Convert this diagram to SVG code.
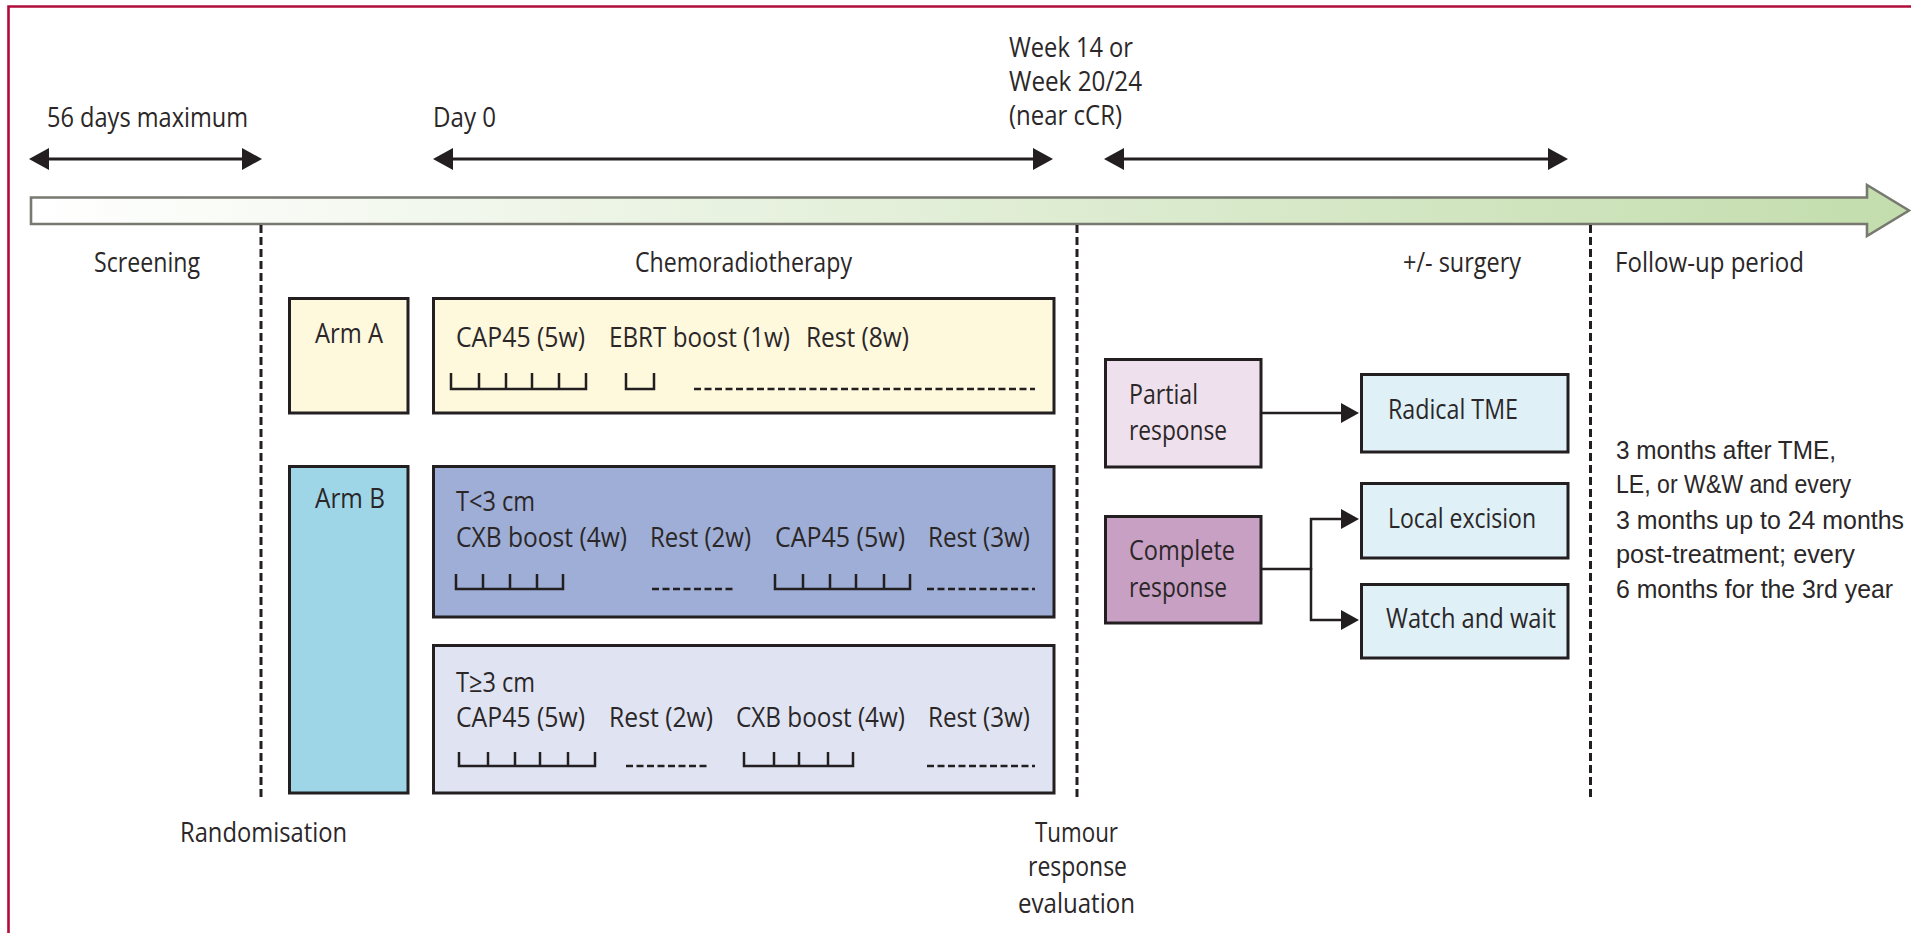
<svg xmlns="http://www.w3.org/2000/svg" width="1911" height="933" viewBox="0 0 1911 933">
<style>
.t{font-family:"Open Sans","Liberation Sans",sans-serif;font-size:27px;fill:#2b2728;}
.f{font-family:"Liberation Sans","Open Sans",sans-serif;font-size:25px;fill:#2b2728;}
.box{stroke:#231f20;stroke-width:3;}
.tick{fill:none;stroke:#231f20;stroke-width:2.5;}
.rest{fill:none;stroke:#231f20;stroke-width:2.5;stroke-dasharray:7 3.5;}
.guide{fill:none;stroke:#231f20;stroke-width:3;stroke-dasharray:8 4;}
.tl{fill:none;stroke:#231f20;stroke-width:3;}
.conn{fill:none;stroke:#231f20;stroke-width:2.5;}
</style>
<defs>
<linearGradient id="barg" x1="31" y1="0" x2="1909" y2="0" gradientUnits="userSpaceOnUse">
<stop offset="0" stop-color="#ffffff"/>
<stop offset="1" stop-color="#c3ddad"/>
</linearGradient>
<marker id="ah" markerUnits="userSpaceOnUse" viewBox="0 0 20 22" refX="14" refY="11" markerWidth="20" markerHeight="22" orient="auto-start-reverse">
<path d="M0,0 L20,11 L0,22 z" fill="#231f20"/>
</marker>
<marker id="ah2" markerUnits="userSpaceOnUse" viewBox="0 0 18 20" refX="12" refY="10" markerWidth="18" markerHeight="20" orient="auto">
<path d="M0,0 L18,10 L0,20 z" fill="#231f20"/>
</marker>
</defs>
<rect width="1911" height="933" fill="#ffffff"/>
<path d="M8.5,933 V6.5 H1911" fill="none" stroke="#b10c3b" stroke-width="2.6"/>

<g id="timeline-bar">
<path d="M31,197.5 H1867 V185 L1909,210.5 L1867,236 V224 H31 Z" fill="url(#barg)" stroke="#777970" stroke-width="2.6"/>
</g>

<g id="top-labels">
<text class="t" x="47" y="127" textLength="201" lengthAdjust="spacingAndGlyphs">56 days maximum</text>
<text class="t" x="433" y="127" textLength="63" lengthAdjust="spacingAndGlyphs">Day 0</text>
<text class="t" x="1009" y="57" textLength="124" lengthAdjust="spacingAndGlyphs">Week 14 or</text>
<text class="t" x="1009" y="91" textLength="133" lengthAdjust="spacingAndGlyphs">Week 20/24</text>
<text class="t" x="1009" y="125" textLength="113" lengthAdjust="spacingAndGlyphs">(near cCR)</text>
</g>

<g id="phase-labels">
<text class="t" x="94" y="272" textLength="106" lengthAdjust="spacingAndGlyphs">Screening</text>
<text class="t" x="635" y="272" textLength="217" lengthAdjust="spacingAndGlyphs">Chemoradiotherapy</text>
<text class="t" x="1403" y="272" textLength="118" lengthAdjust="spacingAndGlyphs">+/- surgery</text>
<text class="t" x="1615" y="272" textLength="189" lengthAdjust="spacingAndGlyphs">Follow-up period</text>
<text class="t" x="180" y="842" textLength="167" lengthAdjust="spacingAndGlyphs">Randomisation</text>
<text class="t" x="1035" y="842" textLength="83" lengthAdjust="spacingAndGlyphs">Tumour</text>
<text class="t" x="1028" y="876" textLength="99" lengthAdjust="spacingAndGlyphs">response</text>
<text class="t" x="1018" y="913" textLength="117" lengthAdjust="spacingAndGlyphs">evaluation</text>
</g>

<g id="guides">
<line class="guide" x1="261" y1="225" x2="261" y2="797"/>
<line class="guide" x1="1077" y1="225" x2="1077" y2="797"/>
<line class="guide" x1="1590.5" y1="225" x2="1590.5" y2="797"/>
</g>

<g id="arm-a">
<rect class="box" x="289.5" y="298.5" width="118.5" height="114.5" fill="#fef8dd"/>
<text class="t" x="315" y="343" textLength="68" lengthAdjust="spacingAndGlyphs">Arm A</text>
</g>
<g id="arm-a-schedule">
<rect class="box" x="433.5" y="298.5" width="620.5" height="114.5" fill="#fef8dd"/>
<text class="t" x="456" y="347" textLength="129" lengthAdjust="spacingAndGlyphs">CAP45 (5w)</text>
<text class="t" x="609" y="347" textLength="181" lengthAdjust="spacingAndGlyphs">EBRT boost (1w)</text>
<text class="t" x="806" y="347" textLength="103" lengthAdjust="spacingAndGlyphs">Rest (8w)</text>
<path class="tick" d="M451,373 V389 H586 V373 M479,389 V373 M506,389 V373 M532,389 V373 M559,389 V373"/>
<path class="tick" d="M626,373 V389 H654 V373"/>
<path class="rest" d="M694,389 H1035"/>
</g>

<g id="arm-b">
<rect class="box" x="289.5" y="466.5" width="118.5" height="326.5" fill="#9ed6e8"/>
<text class="t" x="315" y="508" textLength="70" lengthAdjust="spacingAndGlyphs">Arm B</text>
</g>
<g id="arm-b-small">
<rect class="box" x="433.5" y="466.5" width="620.5" height="150.5" fill="#9eaed6"/>
<text class="t" x="456" y="511" textLength="79" lengthAdjust="spacingAndGlyphs">T&lt;3 cm</text>
<text class="t" x="456" y="547" textLength="171" lengthAdjust="spacingAndGlyphs">CXB boost (4w)</text>
<text class="t" x="650" y="547" textLength="101" lengthAdjust="spacingAndGlyphs">Rest (2w)</text>
<text class="t" x="775" y="547" textLength="130" lengthAdjust="spacingAndGlyphs">CAP45 (5w)</text>
<text class="t" x="928" y="547" textLength="102" lengthAdjust="spacingAndGlyphs">Rest (3w)</text>
<path class="tick" d="M456,574 V589 H563 V574 M483,589 V574 M510,589 V574 M537,589 V574"/>
<path class="rest" d="M652,589 H733"/>
<path class="tick" d="M775,574 V589 H910 V574 M803,589 V574 M830,589 V574 M856,589 V574 M884,589 V574"/>
<path class="rest" d="M927,589 H1035"/>
</g>
<g id="arm-b-large">
<rect class="box" x="433.5" y="645.5" width="620.5" height="147.5" fill="#e0e4f2"/>
<text class="t" x="456" y="692" textLength="79" lengthAdjust="spacingAndGlyphs">T≥3 cm</text>
<text class="t" x="456" y="727" textLength="129" lengthAdjust="spacingAndGlyphs">CAP45 (5w)</text>
<text class="t" x="609" y="727" textLength="104" lengthAdjust="spacingAndGlyphs">Rest (2w)</text>
<text class="t" x="736" y="727" textLength="169" lengthAdjust="spacingAndGlyphs">CXB boost (4w)</text>
<text class="t" x="928" y="727" textLength="102" lengthAdjust="spacingAndGlyphs">Rest (3w)</text>
<path class="tick" d="M459,752 V766 H595 V752 M488,766 V752 M515,766 V752 M540,766 V752 M568,766 V752"/>
<path class="rest" d="M626,766 H707"/>
<path class="tick" d="M744,752 V766 H853 V752 M774,766 V752 M799,766 V752 M828,766 V752"/>
<path class="rest" d="M927,766 H1035"/>
</g>

<g id="partial-response">
<rect class="box" x="1105.5" y="359.5" width="155.5" height="107.5" fill="#eee0ed"/>
<text class="t" x="1129" y="404" textLength="69" lengthAdjust="spacingAndGlyphs">Partial</text>
<text class="t" x="1129" y="440" textLength="98" lengthAdjust="spacingAndGlyphs">response</text>
</g>
<g id="complete-response">
<rect class="box" x="1105.5" y="516.5" width="155.5" height="106.5" fill="#c8a0c4"/>
<text class="t" x="1129" y="560" textLength="106" lengthAdjust="spacingAndGlyphs">Complete</text>
<text class="t" x="1129" y="597" textLength="98" lengthAdjust="spacingAndGlyphs">response</text>
</g>
<g id="radical-tme">
<rect class="box" x="1361.5" y="374.5" width="206.5" height="77.5" fill="#dff0f7"/>
<text class="t" x="1388" y="419" textLength="130" lengthAdjust="spacingAndGlyphs">Radical TME</text>
</g>
<g id="local-excision">
<rect class="box" x="1361.5" y="483.5" width="206.5" height="74.5" fill="#dff0f7"/>
<text class="t" x="1388" y="528" textLength="148" lengthAdjust="spacingAndGlyphs">Local excision</text>
</g>
<g id="watch-and-wait">
<rect class="box" x="1361.5" y="584.5" width="206.5" height="73.5" fill="#dff0f7"/>
<text class="t" x="1386" y="628" textLength="170" lengthAdjust="spacingAndGlyphs">Watch and wait</text>
</g>

<g id="follow-up-text">
<text class="f" x="1616" y="459" textLength="220" lengthAdjust="spacingAndGlyphs">3 months after TME,</text>
<text class="f" x="1616" y="493" textLength="235" lengthAdjust="spacingAndGlyphs">LE, or W&amp;W and every</text>
<text class="f" x="1616" y="529" textLength="288" lengthAdjust="spacingAndGlyphs">3 months up to 24 months</text>
<text class="f" x="1616" y="563" textLength="239" lengthAdjust="spacingAndGlyphs">post-treatment; every</text>
<text class="f" x="1616" y="598" textLength="277" lengthAdjust="spacingAndGlyphs">6 months for the 3rd year</text>
</g>

<g id="connectors">
<line class="tl" x1="35" y1="159" x2="256" y2="159" marker-start="url(#ah)" marker-end="url(#ah)"/>
<line class="tl" x1="439" y1="159" x2="1047" y2="159" marker-start="url(#ah)" marker-end="url(#ah)"/>
<line class="tl" x1="1110" y1="159" x2="1562" y2="159" marker-start="url(#ah)" marker-end="url(#ah)"/>
<path class="conn" d="M1261,413 H1353" marker-end="url(#ah2)"/>
<path class="conn" d="M1261,569 H1311"/>
<path class="conn" d="M1311,570 V519 H1353" marker-end="url(#ah2)"/>
<path class="conn" d="M1311,568 V620 H1353" marker-end="url(#ah2)"/>
</g>
</svg>
